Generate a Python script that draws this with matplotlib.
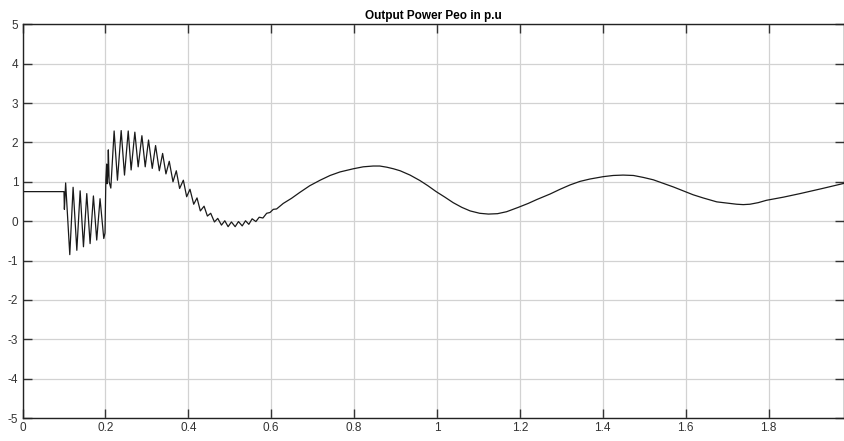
import matplotlib.pyplot as plt

plt.rcParams['font.family'] = ['Liberation Sans Narrow', 'Liberation Sans', 'DejaVu Sans']
plt.rcParams['axes.unicode_minus'] = False

# time (s) and output power (p.u.)
t_vals = [0.000, 0.100, 0.101, 0.104,
          0.114, 0.122, 0.131, 0.139, 0.147, 0.155, 0.163, 0.171, 0.179, 0.187,
          0.196, 0.199, 0.201, 0.203, 0.204, 0.206, 0.207, 0.209, 0.213,
          0.221, 0.229, 0.238, 0.246, 0.255, 0.262, 0.271, 0.279, 0.288, 0.296,
          0.304, 0.313, 0.321, 0.330, 0.338, 0.346, 0.354, 0.363, 0.371, 0.379,
          0.388, 0.396, 0.404, 0.413, 0.421, 0.429, 0.438, 0.446, 0.454, 0.463,
          0.471, 0.480, 0.488, 0.496, 0.504, 0.513, 0.521, 0.530, 0.538, 0.546,
          0.554, 0.563, 0.571, 0.580, 0.589, 0.597, 0.605, 0.613, 0.629, 0.649,
          0.669, 0.693, 0.718, 0.742, 0.766, 0.798, 0.822, 0.846, 0.862, 0.879,
          0.895, 0.911, 0.935, 0.959, 0.978, 0.998, 1.019, 1.039, 1.060, 1.080,
          1.103, 1.124, 1.146, 1.168, 1.196, 1.220, 1.241, 1.273, 1.297, 1.321,
          1.345, 1.369, 1.401, 1.425, 1.449, 1.474, 1.498, 1.522, 1.546, 1.570,
          1.594, 1.618, 1.642, 1.675, 1.707, 1.723, 1.739, 1.755, 1.775, 1.795,
          1.836, 1.876, 1.930, 1.982]
p_vals = [0.75, 0.75, 0.30, 0.97,
          -0.85, 0.86, -0.74, 0.77, -0.65, 0.70, -0.57, 0.64, -0.48, 0.57,
          -0.44, -0.30, 1.05, 1.45, 0.95, 1.20, 1.81, 1.00, 0.84,
          2.29, 1.04, 2.30, 1.17, 2.29, 1.30, 2.26, 1.38, 2.17, 1.38,
          2.06, 1.34, 1.92, 1.28, 1.72, 1.20, 1.52, 1.00, 1.28, 0.83,
          1.04, 0.62, 0.81, 0.43, 0.59, 0.26, 0.38, 0.13, 0.20, -0.02,
          0.07, -0.10, 0.01, -0.14, -0.02, -0.14, -0.01, -0.12, 0.01, -0.08,
          0.06, -0.01, 0.10, 0.08, 0.20, 0.22, 0.30, 0.31, 0.45, 0.58,
          0.73, 0.90, 1.04, 1.16, 1.25, 1.33, 1.38, 1.40, 1.40, 1.37,
          1.33, 1.28, 1.17, 1.03, 0.90, 0.75, 0.61, 0.47, 0.35, 0.26,
          0.20, 0.18, 0.19, 0.24, 0.35, 0.45, 0.55, 0.69, 0.81, 0.92,
          1.01, 1.07, 1.13, 1.16, 1.17, 1.16, 1.11, 1.05, 0.96, 0.87,
          0.77, 0.67, 0.59, 0.49, 0.45, 0.43, 0.42, 0.43, 0.47, 0.53,
          0.61, 0.70, 0.83, 0.96]

x_ticks = [0, 0.2, 0.4, 0.6, 0.8, 1.0, 1.2, 1.4, 1.6, 1.8]
x_labels = ['0', '0.2', '0.4', '0.6', '0.8', '1', '1.2', '1.4', '1.6', '1.8']
y_ticks = [-5, -4, -3, -2, -1, 0, 1, 2, 3, 4, 5]

fig = plt.figure(figsize=(8.44, 4.41), dpi=100)
ax = fig.add_axes([0.0267, 0.052, 0.9733, 0.893])

ax.plot(t_vals, p_vals, color='#1a1a1a', linewidth=0.9)

ax.set_xlim(0, 1.982)
ax.set_ylim(-5, 5)
ax.set_xticks(x_ticks)
ax.set_xticklabels(x_labels)
ax.set_yticks(y_ticks)
ax.grid(True, color='#d2d2d2', linewidth=0.9)
ax.tick_params(direction='in', length=6.5, width=1, labelsize=8.5,
               top=True, right=True, colors='#333333', pad=3)
for s in ax.spines.values():
    s.set_color('#222222')
    s.set_linewidth(1.0)

ax.set_title('Output Power Peo in p.u', fontsize=8.5, fontweight='bold', pad=4)

fig.savefig('out.png', dpi=100)
